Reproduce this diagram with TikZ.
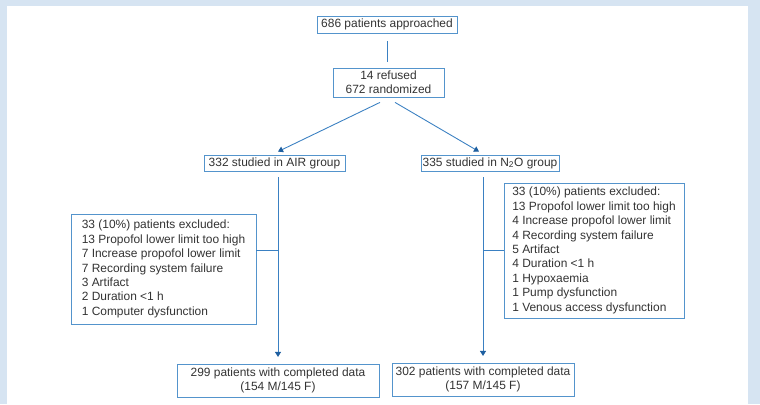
\documentclass[tikz,border=0pt]{standalone}
\usepackage{fontspec}
\setmainfont{Liberation Sans}
\usetikzlibrary{arrows.meta,positioning,calc}
\definecolor{panelblue}{RGB}{214,228,242}
\definecolor{boxblue}{RGB}{84,148,204}
\definecolor{lineblue}{RGB}{58,128,194}
\definecolor{tipblue}{RGB}{30,95,160}
\definecolor{txtgray}{RGB}{51,51,51}

\begin{document}
\begin{tikzpicture}[
box/.style={draw=boxblue, line width=0.7pt, fill=white, text=txtgray,
font=\fontsize{10.2}{12.3}\selectfont, align=center, inner sep=0pt},
exbox/.style={box, align=left},
link/.style={draw=lineblue, line width=0.75pt},
arrow/.style={link, -{Triangle[length=1.5mm, width=1.8mm, color=tipblue]}}
]

% panel
\fill[panelblue] (0,0) rectangle (22.8,12.12);
\fill[white] (0.21,0) rectangle (22.44,11.94);

\node[box, minimum width=4.2cm, minimum height=0.51cm] (app) at (11.61,11.385)
{686 patients approached};
\node[box, minimum width=3.33cm, minimum height=0.87cm] (rand) at (11.655,9.645)
{14 refused\\672 randomized};
\node[box, minimum width=4.23cm, minimum height=0.48cm] (air) at (8.235,7.23)
{332 studied in AIR group};
\node[box, minimum width=4.14cm, minimum height=0.48cm] (nitro) at (14.7,7.23)
{335 studied in N\textsubscript{2}O group};

\node[exbox, minimum width=5.55cm, minimum height=3.3cm] (exair) at (4.905,4.05)
{33 (10\%) patients excluded:\\
13 Propofol lower limit too high\\
7 Increase propofol lower limit\\
7 Recording system failure\\
3 Artifact\\
2 Duration <1 h\\
1 Computer dysfunction};
\node[exbox, minimum width=5.4cm, minimum height=4.05cm] (exnitro) at (17.82,4.605)
{33 (10\%) patients excluded:\\
13 Propofol lower limit too high\\
4 Increase propofol lower limit\\
4 Recording system failure\\
5 Artifact\\
4 Duration <1 h\\
1 Hypoxaemia\\
1 Pump dysfunction\\
1 Venous access dysfunction};

\node[box, minimum width=6.06cm, minimum height=0.99cm] (doneair) at (8.34,0.705)
{299 patients with completed data\\(154 M/145 F)};
\node[box, minimum width=5.46cm, minimum height=0.99cm] (donenitro) at (14.49,0.735)
{302 patients with completed data\\(157 M/145 F)};

% connectors
\draw[link, shorten <=0.24cm, shorten >=0.18cm] (app.south) -- (app.south |- rand.north);
\draw[arrow] ($(rand.south)+(-0.255,-0.15)$) -- ($(air.north -| doneair.north)+(0,0.09)$);
\draw[arrow] ($(rand.south)+(0.195,-0.15)$) -- ($(nitro.north -| donenitro.north)+(-0.12,0.09)$);
\draw[arrow, shorten <=0.18cm, shorten >=0.2cm] (air.south -| doneair.north) -- (doneair.north);
\draw[arrow, shorten <=0.18cm, shorten >=0.2cm] (nitro.south -| donenitro.north) -- (donenitro.north);
\draw[link] (doneair.north |- exnitro.west) -- (exair.east |- exnitro.west);
\draw[link] (donenitro.north |- exnitro.west) -- (exnitro.west);

\end{tikzpicture}
\end{document}
